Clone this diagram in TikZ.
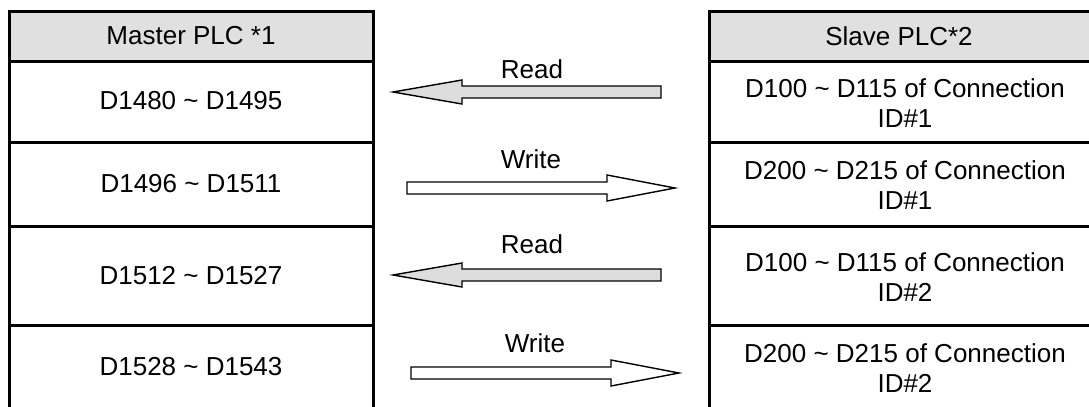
\documentclass[tikz,border=0pt]{standalone}
\usepackage{fontspec}
\setmainfont{Liberation Sans}
\definecolor{headgray}{RGB}{224,224,224}
\definecolor{arrowgray}{RGB}{221,221,221}
\newcommand{\til}{\textasciitilde}
\begin{document}
\begin{tikzpicture}[x=0.5pt, y=-0.5pt,
    cell/.style={font=\fontsize{13}{15}\selectfont, align=center, inner sep=0pt},
    gridline/.style={line width=1.5pt},
    blockarrow/.style={draw, line width=0.7pt, line join=miter}]
    \useasboundingbox (0,0) rectangle (1089,407);

    % 表头底色
    \fill[headgray] (9,11) rectangle (373,61);
    \fill[headgray] (709,11) rectangle (1089,61);

    % 表格线
    \draw[gridline] (9,407) -- (9,11) -- (373,11) -- (373,407);
    \draw[gridline] (709,407) -- (709,11) -- (1092,11);
    \foreach \y in {61, 142, 226, 325} {
        \draw[gridline] (9,\y) -- (373,\y);
        \draw[gridline] (709,\y) -- (1092,\y);
    }

    % 主站
    \node[cell] (master) at (191,36) {Master PLC *1};
    \foreach \i/\y/\a/\b in {1/101/1480/1495, 2/184/1496/1511,
                             3/276/1512/1527, 4/367/1528/1543} {
        \node[cell] (m\i) at (191,\y) {D\a{} \til{} D\b};
    }

    % 从站
    \node[cell] (slave) at (899,36) {Slave PLC*2};
    \foreach \i/\y/\a/\b/\n in {1/103/100/115/1, 2/185/200/215/1,
                                3/277/100/115/2, 4/368/200/215/2} {
        \node[cell] (s\i) at (905,\y) {D\a{} \til{} D\b{} of Connection\\ID\#\n};
    }

    % 读
    \foreach \i/\y/\ly in {1/92/69, 2/275/244} {
        \draw[blockarrow, fill=arrowgray] (393,\y) -- (462,\y-12) -- (462,\y-6)
            -- (661,\y-6) -- (661,\y+6) -- (462,\y+6) -- (462,\y+12) -- cycle;
        \node[cell] (rd\i) at (532,\ly) {Read};
    }

    % 写
    \foreach \i/\x/\y/\ly in {1/407/188/159, 2/411/373/343} {
        \draw[blockarrow, fill=white] (\x,\y-6) -- (\x+200,\y-6) -- (\x+200,\y-13)
            -- (\x+268,\y) -- (\x+200,\y+13) -- (\x+200,\y+6) -- (\x,\y+6) -- cycle;
        \node[cell] (wr\i) at (\x+124,\ly) {Write};
    }
\end{tikzpicture}
\end{document}
